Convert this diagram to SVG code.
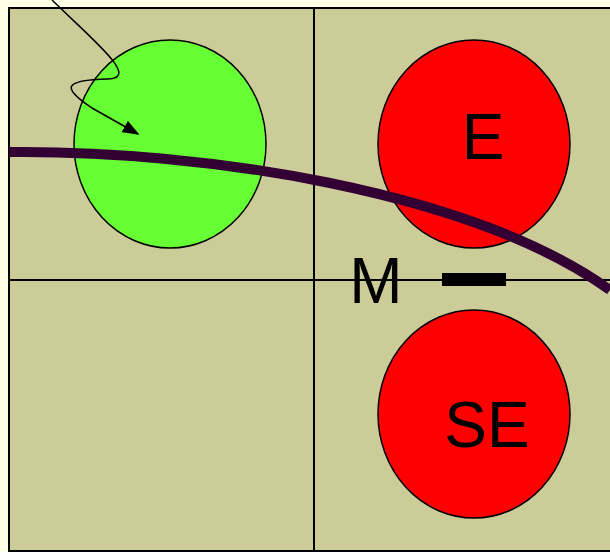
<svg xmlns="http://www.w3.org/2000/svg" width="610" height="552" viewBox="0 0 610 552">
<style>
.ell{stroke:#000;stroke-width:1.5}
.lbl{font-family:"Liberation Sans",Arial,sans-serif;font-size:64px;fill:#000}
.grid{stroke:#000;stroke-width:2}
</style>
<defs>
<marker id="ah" viewBox="0 0 10 10" refX="9" refY="5" markerWidth="17" markerHeight="13" orient="auto" markerUnits="userSpaceOnUse" preserveAspectRatio="none">
<path d="M0,0 L10,5 L0,10 z" fill="#000"/>
</marker>
</defs>
<rect x="0" y="0" width="610" height="552" fill="#FFFFE6"/>
<rect x="9" y="8" width="610" height="543" fill="#CCCC99" class="grid"/>
<line x1="314" y1="8" x2="314" y2="551" class="grid"/>
<line x1="9" y1="280" x2="610" y2="280" class="grid"/>
<g id="green">
<ellipse cx="170" cy="144" rx="96" ry="104" fill="#66FF33" class="ell"/>
</g>
<g id="E">
<ellipse cx="474" cy="144" rx="96" ry="104" fill="#FF0000" class="ell"/>
<text x="483" y="159" text-anchor="middle" class="lbl">E</text>
</g>
<g id="SE">
<ellipse cx="474" cy="414" rx="96" ry="104" fill="#FF0000" class="ell"/>
<text x="487" y="447" text-anchor="middle" class="lbl">SE</text>
</g>
<g id="M">
<text x="376" y="303" text-anchor="middle" class="lbl">M</text>
<rect x="442" y="273" width="64" height="13" fill="#000"/>
</g>
<g id="connectors">
<path d="M9,152 C 200,150 470,190 610,290" fill="none" stroke="#330033" stroke-width="10"/>
<path d="M52,0 C 95,42 140,78 108,79 C 62,80 62,88 92,108 L 138,134" fill="none" stroke="#000" stroke-width="1.5" marker-end="url(#ah)"/>
</g>
</svg>
